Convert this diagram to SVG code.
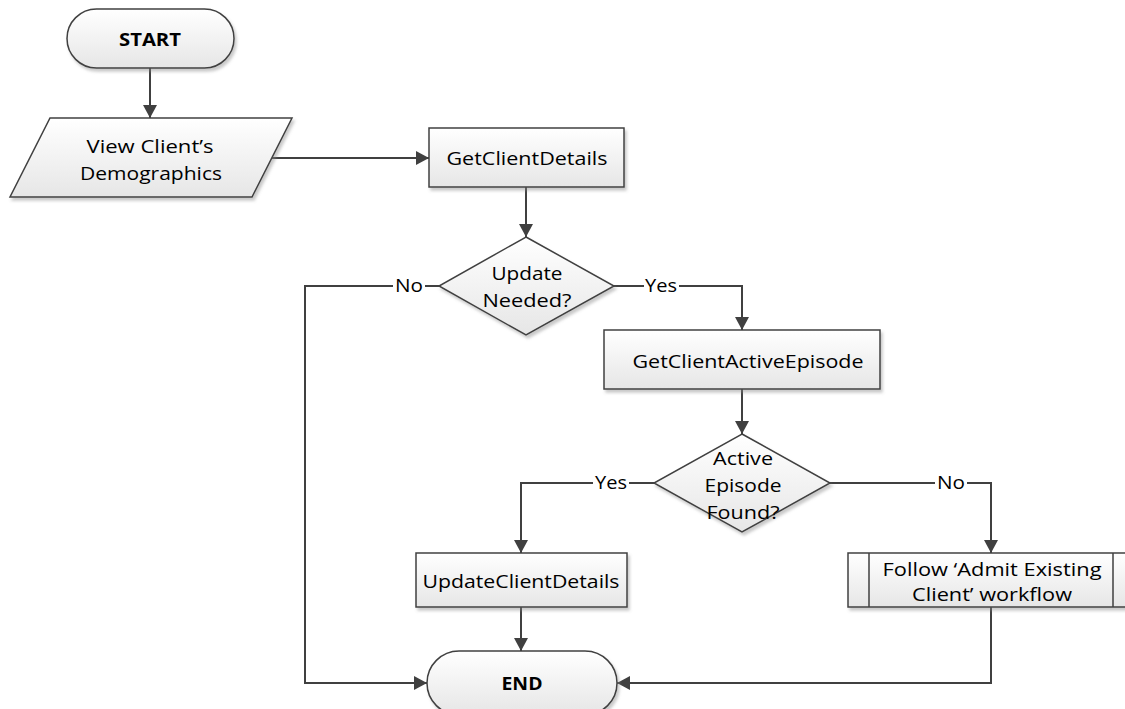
<svg xmlns="http://www.w3.org/2000/svg" width="1125" height="709" viewBox="0 0 1125 709">
<style>
.shape{fill:url(#g);stroke:#404040;stroke-width:1.5;filter:url(#sh)}
.line{fill:none;stroke:#404040;stroke-width:2}
.arr{marker-end:url(#ah)}
text{font-family:"Open Sans","Liberation Sans",sans-serif;font-size:18px;fill:#000;text-anchor:middle}
.b{font-weight:bold}
.lbl{fill:#fff;stroke:none}
</style>
<defs>
<linearGradient id="g" x1="0" y1="0" x2="0" y2="1">
<stop offset="0" stop-color="#ffffff"/>
<stop offset="1" stop-color="#e6e6e6"/>
</linearGradient>
<filter id="sh" x="-10%" y="-10%" width="125%" height="135%">
<feDropShadow dx="2" dy="3" stdDeviation="1.5" flood-color="#888" flood-opacity="0.45"/>
</filter>
<marker id="ah" markerUnits="userSpaceOnUse" markerWidth="14" markerHeight="14" refX="13" refY="7" orient="auto">
<path d="M0,0 L13,7 L0,14 z" fill="#404040"/>
</marker>
</defs>

<g id="connectors">
<path class="line arr" d="M150,68 V118"/>
<path class="line arr" d="M272,158 H429"/>
<path class="line arr" d="M526,187 V237"/>
<path class="line arr" d="M614,286 H742 V330"/>
<path class="line arr" d="M439,286 H305 V683 H427"/>
<path class="line arr" d="M742,389 V434"/>
<path class="line arr" d="M654,483 H521 V553"/>
<path class="line arr" d="M830,483 H991 V553"/>
<path class="line arr" d="M521,607 V651"/>
<path class="line arr" d="M991,607 V683 H617"/>
<rect class="lbl" x="644" y="276" width="35" height="20"/>
<text x="661" y="292" textLength="32" lengthAdjust="spacingAndGlyphs">Yes</text>
<rect class="lbl" x="393" y="276" width="32" height="20"/>
<text x="409" y="292" textLength="28" lengthAdjust="spacingAndGlyphs">No</text>
<rect class="lbl" x="593" y="473" width="36" height="20"/>
<text x="611" y="489" textLength="32" lengthAdjust="spacingAndGlyphs">Yes</text>
<rect class="lbl" x="935" y="473" width="32" height="20"/>
<text x="951" y="489" textLength="28" lengthAdjust="spacingAndGlyphs">No</text>
</g>

<g id="start">
<rect class="shape" x="67" y="9" width="167" height="59" rx="29.5"/>
<text class="b" x="150" y="46" textLength="62" lengthAdjust="spacingAndGlyphs">START</text>
</g>

<g id="view-demographics">
<polygon class="shape" points="50,118 292,118 252,197 10,197"/>
<text x="150" y="153" textLength="127" lengthAdjust="spacingAndGlyphs">View Client’s</text>
<text x="151" y="180" textLength="142" lengthAdjust="spacingAndGlyphs">Demographics</text>
</g>

<g id="get-client-details">
<rect class="shape" x="429" y="128" width="195" height="59"/>
<text x="527" y="165" textLength="161" lengthAdjust="spacingAndGlyphs">GetClientDetails</text>
</g>

<g id="update-needed">
<polygon class="shape" points="526,237 614,286 526,335 439,286"/>
<text x="527" y="280" textLength="71" lengthAdjust="spacingAndGlyphs">Update</text>
<text x="527" y="307" textLength="89" lengthAdjust="spacingAndGlyphs">Needed?</text>
</g>

<g id="get-client-active-episode">
<rect class="shape" x="604" y="330" width="276" height="59"/>
<text x="748" y="368" textLength="231" lengthAdjust="spacingAndGlyphs">GetClientActiveEpisode</text>
</g>

<g id="active-episode-found">
<polygon class="shape" points="742,434 830,483 742,532 654,483"/>
<text x="743" y="465" textLength="60" lengthAdjust="spacingAndGlyphs">Active</text>
<text x="743" y="492" textLength="77" lengthAdjust="spacingAndGlyphs">Episode</text>
<text x="743" y="519" textLength="73" lengthAdjust="spacingAndGlyphs">Found?</text>
</g>

<g id="update-client-details">
<rect class="shape" x="416" y="553" width="211" height="54"/>
<text x="521" y="588" textLength="197" lengthAdjust="spacingAndGlyphs">UpdateClientDetails</text>
</g>

<g id="admit-existing-client">
<rect class="shape" x="848" y="553" width="286" height="54"/>
<path class="line" style="stroke-width:1.5" d="M869,553 V607 M1113,553 V607"/>
<text x="992" y="576" textLength="219" lengthAdjust="spacingAndGlyphs">Follow ‘Admit Existing</text>
<text x="992" y="601" textLength="160" lengthAdjust="spacingAndGlyphs">Client’ workflow</text>
</g>

<g id="end">
<rect class="shape" x="427" y="651" width="190" height="64" rx="32"/>
<text class="b" x="522" y="690" textLength="41" lengthAdjust="spacingAndGlyphs">END</text>
</g>
</svg>
